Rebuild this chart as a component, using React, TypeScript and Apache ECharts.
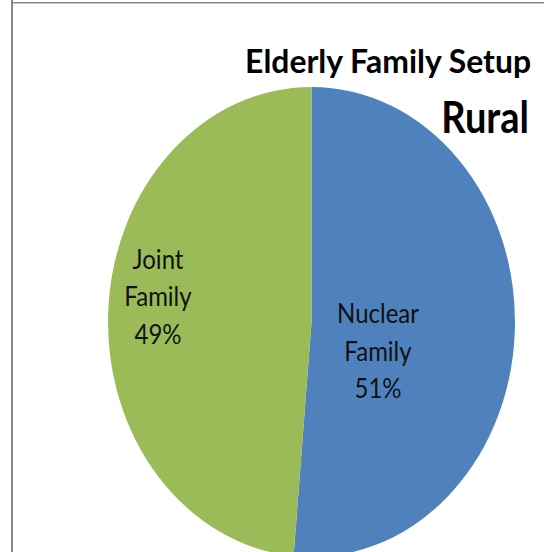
import React, { useEffect, useRef } from "react";
import * as echarts from "echarts";

const categories = ["Nuclear Family", "Joint Family"];
const values = [51.4, 48.6];
const colors = ["#4F81BD", "#9BBB59"];
const titleText = "Elderly Family Setup";
const subtitleText = "Rural";

// label anchor positions (unscaled chart coordinates)
const labelX = [378, 158];
const labelY = [303, 256];

const STRETCH = 1.1548;
const W = 544;
const H = Math.round(552 / STRETCH);

export default function App() {
  const ref = useRef<HTMLDivElement>(null);
  useEffect(() => {
    if (!ref.current) return;
    const chart = echarts.init(ref.current, null, { renderer: "svg" });
    chart.setOption({
      animation: false,
      backgroundColor: "#ffffff",
      graphic: [
        {
          type: "line",
          shape: { x1: 12, y1: 0, x2: 12, y2: H },
          style: { stroke: "#868686", lineWidth: 2 },
          silent: true,
        },
        {
          type: "line",
          shape: { x1: 11, y1: 2.4, x2: W, y2: 2.4 },
          style: { stroke: "#868686", lineWidth: 1.2 },
          silent: true,
        },
        {
          type: "text",
          x: 531,
          y: 38.5,
          scaleX: 1.14,
          silent: true,
          style: {
            text: titleText,
            font: "bold 28px Lato",
            fill: "#000000",
            align: "right",
            verticalAlign: "top",
            textAlign: "right",
            textVerticalAlign: "top",
          },
        },
        {
          type: "text",
          right: 15,
          top: 81.5,
          silent: true,
          style: {
            text: subtitleText,
            font: "bold 38px Lato",
            fill: "#000000",
          },
        },
      ],
      series: [
        {
          type: "pie",
          center: [311.5, 278.8],
          radius: 203.5,
          startAngle: 90,
          clockwise: true,
          silent: true,
          itemStyle: { borderWidth: 0 },
          emphasis: { disabled: true },
          label: {
            show: true,
            position: "inside",
            fontFamily: "Lato",
            fontSize: 24,
            lineHeight: 32.5,
            color: "#111111",
            align: "center",
            formatter: (p: any) =>
              p.name.replace(" ", "\n") + "\n" + Math.round(p.percent) + "%",
          },
          labelLine: { show: false },
          labelLayout: (p: any) => ({
            x: labelX[p.dataIndex],
            y: labelY[p.dataIndex],
            align: "center",
            verticalAlign: "middle",
          }),
          data: categories.map((c, i) => ({
            name: c,
            value: values[i],
            itemStyle: { color: colors[i] },
          })),
        },
      ],
    });
    return () => chart.dispose();
  }, []);
  return (
    <div
      style={{
        position: "fixed",
        left: 0,
        top: 0,
        width: W,
        height: 552,
        overflow: "hidden",
        background: "#fff",
      }}
    >
      <div
        ref={ref}
        style={{
          width: W,
          height: H,
          transform: `scaleY(${STRETCH})`,
          transformOrigin: "0 0",
        }}
      />
    </div>
  );
}
